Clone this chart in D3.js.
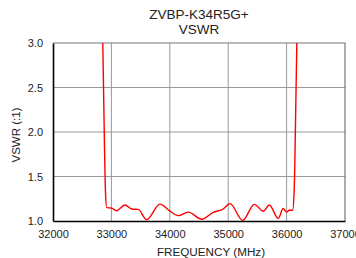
<!DOCTYPE html>
<html>
<head>
<meta charset="utf-8">
<script src="https://cdn.jsdelivr.net/npm/d3@7"></script>
<style>
  body { margin: 0; background: #fff; }
  svg { display: block; font-family: "Liberation Sans", Arial, sans-serif; }
</style>
</head>
<body>
<div id="chart"></div>
<script>
// VSWR vs frequency
const freqs = [32820, 32850, 32880, 32900, 32920, 33000, 33090, 33233, 33347, 33460, 33603,
  33832, 34003, 34146, 34317, 34545, 34744, 34915, 35031, 35248, 35447, 35601, 35704,
  35856, 35942, 36000, 36046, 36103, 36130, 36160, 36190];
const vswr = [3.6, 3.1, 1.9, 1.3, 1.15, 1.146, 1.116, 1.18, 1.135, 1.13, 1.015,
  1.19, 1.11, 1.06, 1.10, 1.02, 1.097, 1.135, 1.195, 1.007, 1.187, 1.11, 1.18,
  1.03, 1.14, 1.10, 1.12, 1.12, 1.35, 2.4, 3.6];
const xTicks = [32000, 33000, 34000, 35000, 36000, 37000];
const yTicks = [1.0, 1.5, 2.0, 2.5, 3.0];
const titleLines = ["ZVBP-K34R5G+", "VSWR"];

const W = 356, H = 258;
const margin = {top: 43, right: 11, bottom: 37, left: 53},
    width = W - margin.left - margin.right,
    height = H - margin.top - margin.bottom;

const svg = d3.select("#chart").append("svg")
    .attr("width", W).attr("height", H);
const g = svg.append("g")
    .attr("transform", "translate(" + margin.left + "," + margin.top + ")");

const x = d3.scaleLinear().domain([32000, 37000]).range([0, width]);
const y = d3.scaleLinear().domain([1, 3]).range([height, 0]);

// grid
g.append("g").selectAll("line").data(xTicks.slice(1, -1)).enter().append("line")
    .attr("x1", d => x(d)).attr("x2", d => x(d))
    .attr("y1", 0).attr("y2", height)
    .attr("stroke", "#999").attr("stroke-width", 1);
g.append("g").selectAll("line").data(yTicks.slice(1, -1)).enter().append("line")
    .attr("x1", 0).attr("x2", width)
    .attr("y1", d => y(d)).attr("y2", d => y(d))
    .attr("stroke", "#999").attr("stroke-width", 1);

// frame: top/right grey
g.append("path")
    .attr("d", `M0,0H${width}V${height}`)
    .attr("fill", "none").attr("stroke", "#777").attr("stroke-width", 1.2);

// curve
g.append("clipPath").attr("id", "clip")
    .append("rect").attr("width", width).attr("height", height);
const data = freqs.map((f, i) => ({f, v: vswr[i]}));
g.append("path")
    .datum(data)
    .attr("clip-path", "url(#clip)")
    .attr("fill", "none")
    .attr("stroke", "#ff0000")
    .attr("stroke-width", 1.4)
    .attr("d", d3.line().x(d => x(d.f)).y(d => y(d.v)).curve(d3.curveMonotoneX));

// axes
const xAxis = g.append("g")
    .attr("transform", "translate(0," + height + ")")
    .call(d3.axisBottom(x).tickValues(xTicks).tickSize(0).tickPadding(9).tickFormat(d3.format("d")));
const yAxis = g.append("g")
    .call(d3.axisLeft(y).tickValues(yTicks).tickSize(0).tickPadding(10).tickFormat(d3.format(".1f")));
for (const a of [xAxis, yAxis]) {
    a.select(".domain").attr("stroke", "#000").attr("stroke-width", 1.6);
    a.selectAll("text").attr("font-size", 11).attr("fill", "#222")
        .attr("font-family", "Liberation Sans, Arial, sans-serif");
}

// labels
svg.append("text")
    .attr("x", margin.left + width / 2 + 12).attr("y", 256)
    .attr("text-anchor", "middle").attr("font-size", 11.7).attr("fill", "#222")
    .text("FREQUENCY (MHz)");
svg.append("text")
    .attr("transform", "translate(20,135) rotate(-90)")
    .attr("text-anchor", "middle").attr("font-size", 11.5).attr("fill", "#222")
    .text("VSWR (:1)");
svg.append("g").selectAll("text").data(titleLines).enter().append("text")
    .attr("x", margin.left + width / 2)
    .attr("y", (d, i) => 19 + i * 15)
    .attr("text-anchor", "middle").attr("font-size", 13.5).attr("fill", "#222")
    .text(d => d);
</script>
</body>
</html>
